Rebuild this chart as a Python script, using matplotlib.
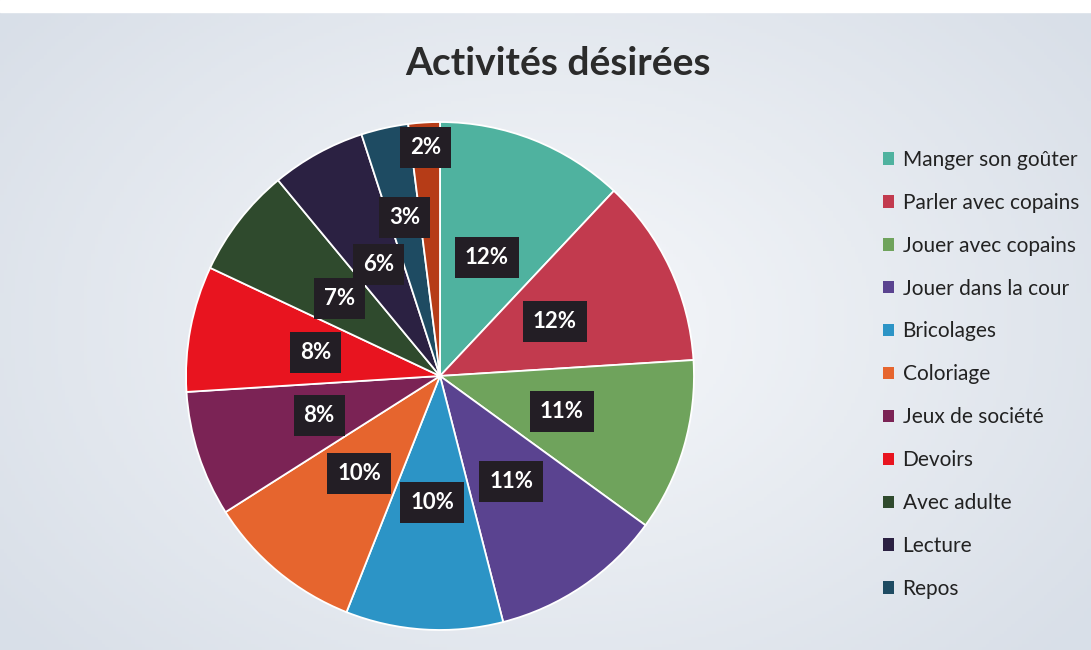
import numpy as np
import matplotlib.pyplot as plt

activites = ['Manger son goûter', 'Parler avec copains', 'Jouer avec copains',
             'Jouer dans la cour', 'Bricolages', 'Coloriage', 'Jeux de société',
             'Devoirs', 'Avec adulte', 'Lecture', 'Repos', 'Autre']
pourcentages = [12, 12, 11, 11, 10, 10, 8, 8, 7, 6, 3, 2]
couleurs = ['#4fb29f', '#c23a4e', '#6fa35c', '#5a4390', '#2c94c6', '#e6652e',
            '#7b2355', '#e8141f', '#2f4a2d', '#2b2142', '#1e4b62', '#b63c17']

plt.rcParams['font.family'] = ['Lato', 'DejaVu Sans']

fig = plt.figure(figsize=(10.91, 6.5), dpi=100)

# fond legerement degrade
bg = fig.add_axes([0, 0, 1, 1])
yy, xx = np.mgrid[0:1:200j, 0:1:300j]
d = np.sqrt(((xx - 0.5) * 1.2) ** 2 + ((yy - 0.5) * 1.0) ** 2)
c0 = np.array([0.965, 0.972, 0.982])
c1 = np.array([0.85, 0.875, 0.91])
img = c0 + (c1 - c0) * np.clip(d / 0.75, 0, 1)[..., None]
bg.imshow(img, extent=[0, 1, 0, 1], aspect='auto', origin='lower')
bg.axhspan(0.982, 1.0, color='white')
bg.set_xlim(0, 1)
bg.set_ylim(0, 1)
bg.axis('off')

ax = fig.add_axes([0.1705, 0.0308, 0.4656, 0.7815])
wedges, texts, autotexts = ax.pie(
    pourcentages, colors=couleurs, startangle=90, counterclock=False,
    autopct='%1.0f%%', pctdistance=0.5,
    wedgeprops=dict(edgecolor='white', linewidth=1.3),
    textprops=dict(color='white', fontsize=16, fontweight='bold'))

# les deux petites parts ont leur etiquette plus loin du centre
for i, r in [(10, 0.64), (11, 0.9)]:
    w = wedges[i]
    a = np.deg2rad((w.theta1 + w.theta2) / 2)
    autotexts[i].set_position((r * np.cos(a), r * np.sin(a)))

for t in autotexts:
    t.set_bbox(dict(boxstyle='square,pad=0.45', facecolor='#231e25',
                    edgecolor='none'))

ax.set_xlim(-1, 1)
ax.set_ylim(-1, 1)
ax.set_aspect('equal')

fig.text(0.511, 0.903, 'Activités désirées', ha='center', va='center',
         fontsize=28, fontweight='bold', color='#2b2b2b')

leg = fig.legend(wedges[:11], activites[:11], loc='center left',
                 bbox_to_anchor=(0.792, 0.424), frameon=False,
                 handlelength=0.55, handleheight=0.55, handletextpad=0.4,
                 labelspacing=1.1, fontsize=15)
for h in leg.legend_handles:
    h.set_edgecolor('none')
for t in leg.get_texts():
    t.set_color('#222222')

fig.savefig('out.png', dpi=100)
